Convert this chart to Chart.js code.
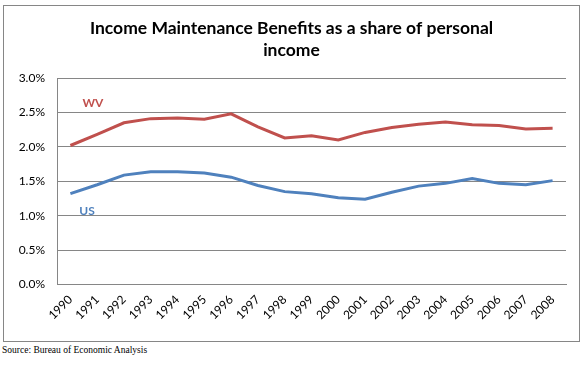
<!DOCTYPE html>
<html>
<head>
<meta charset="utf-8">
<script src="https://cdn.jsdelivr.net/npm/chart.js@4.4.0/dist/chart.umd.min.js"></script>
<style>
    html, body { margin: 0; padding: 0; background: #fff; }
    body { width: 583px; height: 365px; position: relative; overflow: hidden; }
    .chart-box {
        position: absolute; left: 3px; top: 5px;
        width: 575px; height: 335px;
        border: 1px solid #868686;
    }
    .source {
        position: absolute; left: 2px; top: 345px;
        font-family: "Liberation Serif", serif; font-size: 9.5px; color: #000;
    }
</style>
</head>
<body>
<div class="chart-box"><canvas id="benefitsChart" width="575" height="335"></canvas></div>
<div class="source">Source: Bureau of Economic Analysis</div>
<script>
// 年份
const years = ['1990', '1991', '1992', '1993', '1994', '1995', '1996', '1997', '1998', '1999',
               '2000', '2001', '2002', '2003', '2004', '2005', '2006', '2007', '2008'];
// 占个人收入的百分比
const wvShare = [2.02, 2.18, 2.35, 2.41, 2.42, 2.40, 2.48, 2.29, 2.13, 2.16,
                 2.10, 2.21, 2.28, 2.33, 2.36, 2.32, 2.31, 2.26, 2.27];
const usShare = [1.32, 1.45, 1.59, 1.64, 1.64, 1.62, 1.56, 1.44, 1.35, 1.32,
                 1.26, 1.24, 1.34, 1.43, 1.47, 1.54, 1.47, 1.45, 1.51];
const yTicks = [0, 0.5, 1.0, 1.5, 2.0, 2.5, 3.0];
// 系列名称标签的位置（类别索引, 数值）
const seriesNames = ['WV', 'US'];
const nameAt = [[0.84, 2.63], [0.62, 1.06]];

const red = '#C0504D';
const blue = '#4F81BD';
const gridGrey = '#868686';

// 在图上写 WV / US
const seriesLabels = {
    id: 'seriesLabels',
    afterLayout(chart) {
        // 标题居中于整个画布
        if (chart.titleBlock) {
            chart.titleBlock.left = 0;
            chart.titleBlock.right = chart.width;
            chart.titleBlock.width = chart.width;
        }
    },
    afterDatasetsDraw(chart) {
        const ctx = chart.ctx;
        const x = chart.scales.x;
        const y = chart.scales.y;
        ctx.save();
        ctx.font = 'bold 12px Lato';
        ctx.textAlign = 'center';
        ctx.textBaseline = 'middle';
        seriesNames.forEach((name, i) => {
            ctx.fillStyle = chart.data.datasets[i].borderColor;
            ctx.fillText(name, x.getPixelForValue(nameAt[i][0]), y.getPixelForValue(nameAt[i][1]));
        });
        ctx.restore();
    }
};

new Chart(document.getElementById('benefitsChart'), {
    type: 'line',
    data: {
        labels: years,
        datasets: [
            { label: 'WV', data: wvShare, borderColor: red, backgroundColor: red, borderWidth: 3, pointRadius: 0, tension: 0 },
            { label: 'US', data: usShare, borderColor: blue, backgroundColor: blue, borderWidth: 3, pointRadius: 0, tension: 0 }
        ]
    },
    options: {
        responsive: false,
        animation: false,
        layout: { padding: { left: 0, right: 13, top: 0, bottom: 0 } },
        scales: {
            x: {
                offset: true,
                grid: { display: false, drawTicks: false },
                border: { display: true, color: gridGrey, width: 1 },
                ticks: {
                    autoSkip: false, minRotation: 45, maxRotation: 45, padding: 8,
                    color: '#000', font: { family: 'Lato', size: 12 }
                },
                afterFit(scale) { scale.height = 56.4; }
            },
            y: {
                min: 0,
                max: 3,
                afterBuildTicks(scale) { scale.ticks = yTicks.map(v => ({ value: v })); },
                grid: { color: gridGrey, lineWidth: 1, drawTicks: false },
                border: { display: true, color: gridGrey, width: 1 },
                ticks: {
                    padding: 12, color: '#000', font: { family: 'Lato', size: 12 },
                    callback: v => v.toFixed(1) + '%'
                },
                afterFit(scale) { scale.width = 53; }
            }
        },
        plugins: {
            legend: { display: false },
            tooltip: { enabled: false },
            title: {
                display: true,
                text: ['Income Maintenance Benefits as a share of personal', 'income'],
                color: '#000',
                font: { family: 'Lato', size: 17.5, weight: 'bold', lineHeight: '22px' },
                padding: { top: 11, bottom: 17 }
            }
        }
    },
    plugins: [seriesLabels]
});
</script>
</body>
</html>
